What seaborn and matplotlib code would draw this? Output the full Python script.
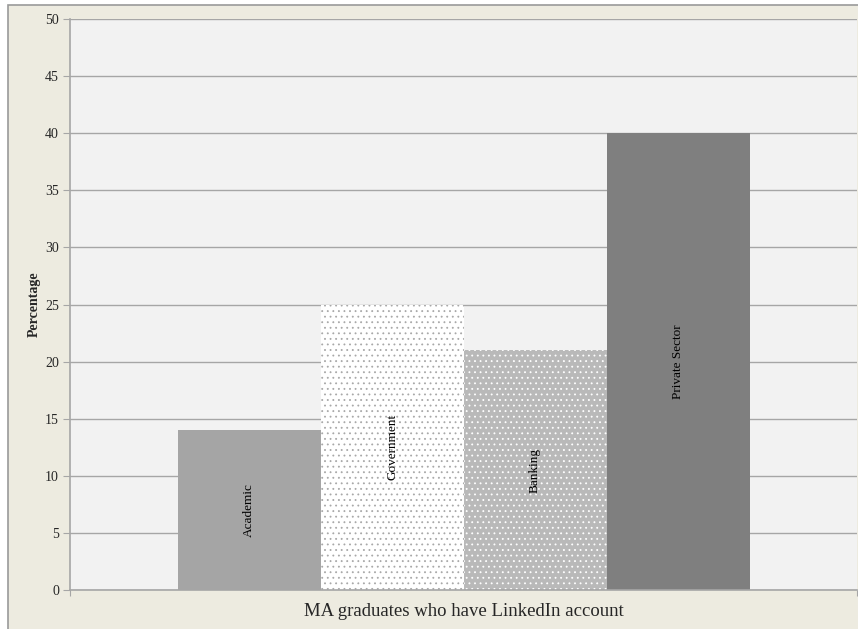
import matplotlib
matplotlib.use('Agg')
import matplotlib.pyplot as plt
import seaborn as sns
import pandas as pd
from matplotlib.patches import Rectangle

# data
sectors = ['Academic', 'Government', 'Banking', 'Private Sector']
percentages = [14, 25, 21, 40]
group = 'MA graduates who have LinkedIn account'
y_ticks = [0, 5, 10, 15, 20, 25, 30, 35, 40, 45, 50]

bar_colors = ['#A5A5A5', '#FFFFFF', '#B9B9B9', '#7F7F7F']
bar_hatches = ['', '...', '...', '']
hatch_colors = ['#A5A5A5', '#A8A8A8', '#FFFFFF', '#7F7F7F']

sns.set_style('white')
plt.rcParams['font.family'] = ['Liberation Serif', 'DejaVu Serif']
plt.rcParams['hatch.linewidth'] = 0.6

df = pd.DataFrame({'group': [group] * len(sectors), 'sector': sectors, 'pct': percentages})

fig = plt.figure(figsize=(8.58, 6.29), dpi=100, facecolor='white')
# beige frame behind the chart
frame = Rectangle((8 / 858, -0.05), 1.0, 1.05 - 5 / 629, transform=fig.transFigure,
                  facecolor='#EDEBE0', edgecolor='#9A9A9A', linewidth=1.2, zorder=-10)
fig.add_artist(frame)
ax = fig.add_axes([70 / 858, 39 / 629, 787 / 858, 571 / 629])
ax.set_facecolor('#F2F2F2')

sns.barplot(data=df, x='group', y='pct', hue='sector', hue_order=sectors,
            palette=bar_colors, width=572 / 787, saturation=1, legend=False, ax=ax)

for patch, h, hc in zip(ax.patches, bar_hatches, hatch_colors):
    patch.set_hatch(h)
    patch.set_edgecolor(hc)
    patch.set_linewidth(0)

# labels inside bars
for patch, name in zip(ax.patches, sectors):
    cx = patch.get_x() + patch.get_width() / 2
    cy = patch.get_height() / 2
    ax.text(cx, cy, name, rotation=90, ha='center', va='center', fontsize=9.5, color='black')

ax.set_xlim(-0.5, 0.5)
ax.set_ylim(0, 50)
ax.set_yticks(y_ticks)
ax.yaxis.grid(True, color='#A6A6A6', linewidth=1)
ax.set_axisbelow(True)
ax.tick_params(axis='y', left=True, length=5, color='#A6A6A6', labelsize=10, pad=3)
ax.set_xticks([-0.5, 0.5])
ax.set_xticklabels(['', ''])
ax.tick_params(axis='x', bottom=True, length=4, color='#A6A6A6')

for side in ['top', 'right']:
    ax.spines[side].set_visible(False)
for side in ['left', 'bottom']:
    ax.spines[side].set_color('#A6A6A6')
    ax.spines[side].set_linewidth(1.2)

ax.set_ylabel('Percentage', fontsize=10, fontweight='bold', labelpad=3)
ax.set_xlabel(group, fontsize=13.5, labelpad=2)

fig.savefig('out.png', dpi=100, facecolor=fig.get_facecolor())
